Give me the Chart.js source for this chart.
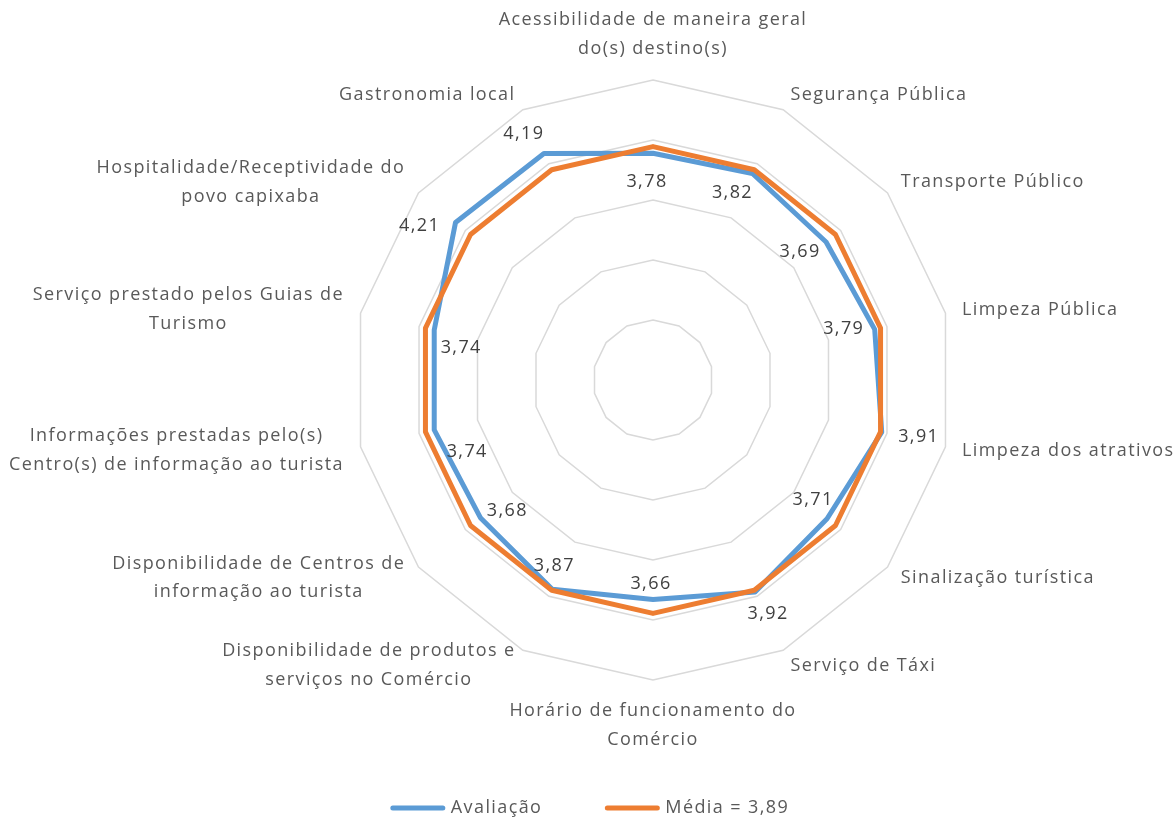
<!DOCTYPE html>
<html lang="pt-BR">
<head>
<meta charset="utf-8">
<title>Avaliação dos serviços</title>
<script src="https://cdn.jsdelivr.net/npm/chart.js@4.4.1/dist/chart.umd.min.js"></script>
<style>
  html, body { margin: 0; padding: 0; background: #ffffff; }
  #wrap { position: relative; width: 1176px; height: 820px; }
</style>
</head>
<body>
<div id="wrap"><canvas id="radarChart"></canvas></div>
<script>
// Categories, clockwise from the top (multi-line labels as arrays)
var categories = [
  ['Acessibilidade de maneira geral', 'do(s) destino(s)'],
  ['Segurança Pública'],
  ['Transporte Público'],
  ['Limpeza Pública'],
  ['Limpeza dos atrativos'],
  ['Sinalização turística'],
  ['Serviço de Táxi'],
  ['Horário de funcionamento do', 'Comércio'],
  ['Disponibilidade de produtos e', 'serviços no Comércio'],
  ['Disponibilidade de Centros de', 'informação ao turista'],
  ['Informações prestadas pelo(s)', 'Centro(s) de informação ao turista'],
  ['Serviço prestado pelos Guias de', 'Turismo'],
  ['Hospitalidade/Receptividade do', 'povo capixaba'],
  ['Gastronomia local']
];

var avaliacao = [3.78, 3.82, 3.69, 3.79, 3.91, 3.71, 3.92, 3.66, 3.87, 3.68, 3.74, 3.74, 4.21, 4.19];
var media = [3.89, 3.89, 3.89, 3.89, 3.89, 3.89, 3.89, 3.89, 3.89, 3.89, 3.89, 3.89, 3.89, 3.89];

var seriesNames = ['Avaliação', 'Média = 3,89'];
var axisMin = 0;
var axisMax = 5;
var axisStep = 1;

// where each value label sits relative to its point, in px
var valueLabelOffsets = [
  [-6, 29], [-20, 19], [-26, 10], [-31, -1], [37, 5], [-14, -19], [13, 22],
  [-2, -16], [2, -23], [27, -7], [33, 22], [27, 18], [-36, 3], [-20, -20]
];

var BLUE = '#5b9bd5';
var ORANGE = '#ed7d31';
var FONT = '"Open Sans", Lato, sans-serif';
var TEXT = '#595959';
var SPACING = '1.4px';

function formatBR(v) {
  return v.toFixed(2).replace('.', ',');
}

// category names around the outer ring
var categoryLabels = {
  id: 'categoryLabels',
  afterDraw: function(chart) {
    var scale = chart.scales.r;
    var ctx = chart.ctx;
    var lineH = 28.5;
    ctx.save();
    ctx.font = '18px ' + FONT;
    ctx.letterSpacing = SPACING;
    ctx.fillStyle = TEXT;
    ctx.textBaseline = 'middle';
    ctx.textAlign = 'center';
    categories.forEach(function(lines, i) {
      var p = scale.getPointPosition(i, scale.drawingArea + 17);
      var c = Math.cos(p.angle), s = Math.sin(p.angle);
      var w = 0;
      lines.forEach(function(l) { w = Math.max(w, ctx.measureText(l).width); });
      var h = lines.length * lineH;
      var left;
      if (Math.abs(c) < 0.05) left = p.x - w / 2;
      else if (c > 0) left = p.x;
      else left = p.x - w;
      var top;
      if (s < -0.99) top = p.y - h;
      else if (s > 0.99) top = p.y;
      else top = p.y - h / 2;
      lines.forEach(function(l, k) {
        ctx.fillText(l, left + w / 2, top + lineH * (k + 0.5));
      });
    });
    ctx.restore();
  }
};

// value labels for the first series
var valueLabels = {
  id: 'valueLabels',
  afterDatasetsDraw: function(chart) {
    var scale = chart.scales.r;
    var ctx = chart.ctx;
    ctx.save();
    ctx.font = '18px ' + FONT;
    ctx.letterSpacing = SPACING;
    ctx.fillStyle = '#404040';
    ctx.textAlign = 'center';
    ctx.textBaseline = 'middle';
    avaliacao.forEach(function(v, i) {
      var p = scale.getPointPositionForValue(i, v);
      var off = valueLabelOffsets[i];
      ctx.fillText(formatBR(v), p.x + off[0], p.y + off[1]);
    });
    ctx.restore();
  }
};

// legend drawn under the chart
var bottomLegend = {
  id: 'bottomLegend',
  afterDraw: function(chart) {
    var ctx = chart.ctx;
    var colors = [BLUE, ORANGE];
    var lineLen = 50, gap = 8, itemGap = 65;
    var y = 808;
    ctx.save();
    ctx.font = '18px ' + FONT;
    ctx.letterSpacing = SPACING;
    var widths = seriesNames.map(function(n) { return ctx.measureText(n).width; });
    var total = 0;
    widths.forEach(function(w, i) { total += lineLen + gap + w + (i > 0 ? itemGap : 0); });
    var x = 591 - total / 2;
    seriesNames.forEach(function(n, i) {
      ctx.strokeStyle = colors[i];
      ctx.lineWidth = 5;
      ctx.lineCap = 'round';
      ctx.beginPath();
      ctx.moveTo(x, y);
      ctx.lineTo(x + lineLen, y);
      ctx.stroke();
      ctx.fillStyle = TEXT;
      ctx.textAlign = 'left';
      ctx.textBaseline = 'middle';
      ctx.fillText(n, x + lineLen + gap, y);
      x += lineLen + gap + widths[i] + itemGap;
    });
    ctx.restore();
  }
};

var ctx = document.getElementById('radarChart').getContext('2d');
new Chart(ctx, {
  type: 'radar',
  data: {
    labels: categories,
    datasets: [
      {
        label: seriesNames[0],
        data: avaliacao,
        borderColor: BLUE,
        backgroundColor: 'rgba(0,0,0,0)',
        borderWidth: 5,
        pointRadius: 0,
        fill: false,
        order: 1
      },
      {
        label: seriesNames[1],
        data: media,
        borderColor: ORANGE,
        backgroundColor: 'rgba(0,0,0,0)',
        borderWidth: 5,
        pointRadius: 0,
        fill: false,
        order: 0
      }
    ]
  },
  options: {
    responsive: true,
    maintainAspectRatio: false,
    animation: false,
    layout: {
      padding: { top: 80, bottom: 140, left: 353, right: 223 }
    },
    elements: {
      line: { tension: 0, borderJoinStyle: 'round' }
    },
    plugins: {
      legend: { display: false },
      tooltip: { enabled: false }
    },
    scales: {
      r: {
        min: axisMin,
        max: axisMax,
        ticks: { display: false, stepSize: axisStep },
        grid: { color: '#d9d9d9', lineWidth: 1.5, circular: false },
        angleLines: { display: false },
        pointLabels: { display: false }
      }
    }
  },
  plugins: [categoryLabels, valueLabels, bottomLegend]
});
</script>
</body>
</html>
